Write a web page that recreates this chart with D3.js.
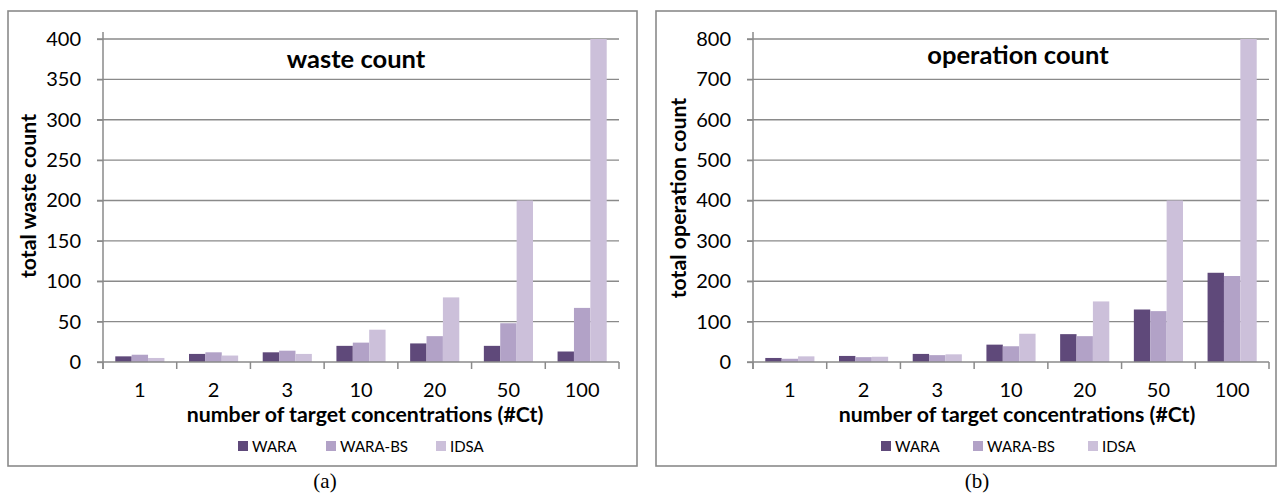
<!DOCTYPE html>
<html>
<head>
<meta charset="utf-8">
<script src="https://cdn.jsdelivr.net/npm/d3@7"></script>
<style>
  body { margin: 0; background: #fff; }
  svg { display: block; }
  text { font-family: Lato, "Open Sans", sans-serif; fill: #000; }
</style>
</head>
<body>
<svg id="chart" width="1278" height="493"></svg>
<script>
// categories = number of target concentrations (#Ct)
const categories = ['1', '2', '3', '10', '20', '50', '100'];
const seriesNames = ['WARA', 'WARA-BS', 'IDSA'];
const seriesColors = ['#5f497a', '#b2a2c7', '#ccc0da'];

// (a) total waste count
const wasteWARA = [7, 10, 12, 20, 23, 20, 13];
const wasteWARABS = [9, 12, 14, 24, 32, 48, 67];
const wasteIDSA = [5, 8, 10, 40, 80, 200, 400];
const wasteTicks = [0, 50, 100, 150, 200, 250, 300, 350, 400];

// (b) total operation count
const opWARA = [10, 15, 20, 43, 69, 130, 221];
const opWARABS = [8, 12, 17, 39, 64, 126, 213];
const opIDSA = [14, 13, 19, 70, 150, 400, 800];
const opTicks = [0, 100, 200, 300, 400, 500, 600, 700, 800];

const svg = d3.select('#chart');
const grey = '#8a8a8a';

function drawPanel(p) {
    const g = svg.append('g');

    // outer frame
    g.append('rect')
        .attr('x', p.frame[0]).attr('y', 11)
        .attr('width', p.frame[1] - p.frame[0]).attr('height', 455)
        .attr('fill', 'none').attr('stroke', grey).attr('stroke-width', 1.6);

    const x = d3.scaleBand().domain(categories).range([p.left, p.left + 516]);
    // Excel gap width 150% -> outer padding 0.75 of a bar
    const xs = d3.scaleBand().domain(seriesNames).range([0, x.bandwidth()])
        .paddingInner(0).paddingOuter(0.75);
    const y = d3.scaleLinear().domain([0, p.max]).range([362, 39]);

    // gridlines
    g.selectAll('.grid')
        .data(p.ticks.slice(1))
        .enter().append('line')
        .attr('x1', p.left - 6).attr('x2', p.left + 516)
        .attr('y1', d => y(d)).attr('y2', d => y(d))
        .attr('stroke', grey).attr('stroke-width', 1.3);

    // bars
    const rows = categories.map((c, i) => ({
        cat: c,
        vals: p.series.map((s, k) => ({ name: seriesNames[k], v: s[i], k: k }))
    }));
    g.selectAll('.grp')
        .data(rows)
        .enter().append('g')
        .attr('transform', d => `translate(${x(d.cat)},0)`)
        .selectAll('rect')
        .data(d => d.vals)
        .enter().append('rect')
        .attr('x', d => xs(d.name))
        .attr('width', xs.bandwidth())
        .attr('y', d => y(d.v))
        .attr('height', d => y(0) - y(d.v))
        .attr('fill', d => seriesColors[d.k]);

    // y axis
    const yAxis = g.append('g')
        .attr('transform', `translate(${p.left},0)`)
        .call(d3.axisLeft(y).tickValues(p.ticks).tickSizeInner(6).tickSizeOuter(0).tickPadding(16));
    yAxis.select('.domain').remove();
    yAxis.selectAll('line').attr('stroke', grey).attr('stroke-width', 1.3);
    yAxis.selectAll('text').attr('font-size', 20).style('font-family', 'Lato');
    g.append('line')
        .attr('x1', p.left).attr('x2', p.left)
        .attr('y1', 32).attr('y2', 369)
        .attr('stroke', grey).attr('stroke-width', 1.5);

    // x axis: baseline, boundary ticks, centred labels
    g.append('line')
        .attr('x1', p.left - 6).attr('x2', p.left + 516)
        .attr('y1', y(0)).attr('y2', y(0))
        .attr('stroke', grey).attr('stroke-width', 1.5);
    const bounds = categories.map(c => x(c) + x.bandwidth()).concat([p.left]);
    g.selectAll('.xt')
        .data(bounds)
        .enter().append('line')
        .attr('x1', d => d).attr('x2', d => d)
        .attr('y1', y(0)).attr('y2', y(0) + 7)
        .attr('stroke', grey).attr('stroke-width', 1.5);
    const xAxis = g.append('g')
        .attr('transform', `translate(0,${y(0)})`)
        .call(d3.axisBottom(x).tickSize(0).tickPadding(21));
    xAxis.select('.domain').remove();
    xAxis.selectAll('text').attr('font-size', 20).style('font-family', 'Lato');

    // titles
    g.append('text')
        .attr('x', p.titleX).attr('y', p.titleY)
        .attr('text-anchor', 'middle')
        .attr('font-size', 25.5).attr('font-weight', 'bold')
        .text(p.title);
    g.append('text')
        .attr('transform', `translate(${p.yLabelX},${p.yLabelY}) rotate(-90)`)
        .attr('text-anchor', 'middle')
        .attr('font-size', 21.3).attr('font-weight', 'bold')
        .text(p.yLabel);
    g.append('text')
        .attr('x', p.xLabelX).attr('y', 422)
        .attr('text-anchor', 'middle')
        .attr('font-size', 21.3).attr('font-weight', 'bold')
        .text('number of target concentrations (#Ct)');

    // legend
    const lg = g.selectAll('.lg')
        .data(seriesNames)
        .enter().append('g')
        .attr('transform', (d, i) => `translate(${p.legendX[i]},441)`);
    lg.append('rect')
        .attr('width', 10).attr('height', 10)
        .attr('fill', (d, i) => seriesColors[i]);
    lg.append('text')
        .attr('x', 14).attr('y', 10.5)
        .attr('font-size', 15)
        .text(d => d);

    // caption
    svg.append('text')
        .attr('x', p.capX).attr('y', 488)
        .attr('text-anchor', 'middle')
        .attr('font-size', 21)
        .style('font-family', '"Liberation Serif", "Times New Roman", serif')
        .text(p.caption);
}

drawPanel({
    frame: [8, 637], left: 103, max: 400, ticks: wasteTicks,
    series: [wasteWARA, wasteWARABS, wasteIDSA],
    title: 'waste count', titleX: 356, titleY: 68,
    yLabel: 'total waste count', yLabelX: 36, yLabelY: 196,
    xLabelX: 365, legendX: [238, 326, 436], capX: 325, caption: '(a)'
});

drawPanel({
    frame: [656, 1276], left: 753, max: 800, ticks: opTicks,
    series: [opWARA, opWARABS, opIDSA],
    title: 'operation count', titleX: 1018, titleY: 64,
    yLabel: 'total operation count', yLabelX: 686, yLabelY: 198,
    xLabelX: 1017, legendX: [881, 973, 1088], capX: 977, caption: '(b)'
});
</script>
</body>
</html>
